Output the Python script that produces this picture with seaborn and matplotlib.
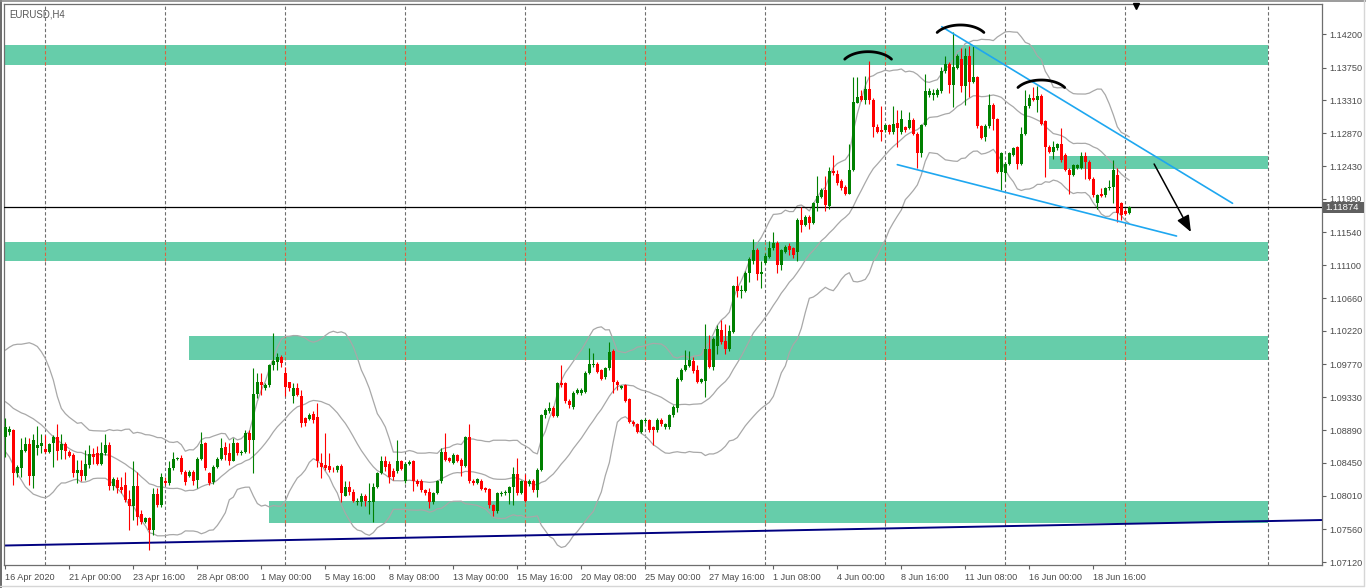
import numpy as np
import pandas as pd
import matplotlib
matplotlib.use("Agg")
import matplotlib.pyplot as plt
import seaborn as sns
from matplotlib.patches import Rectangle
from matplotlib.lines import Line2D

sns.set_style("white")
plt.rcParams['font.family'] = ['Liberation Sans', 'DejaVu Sans']

symbol = "EURUSD,H4"

opens = [1.0879,1.0887,1.0889,1.0831,1.0838,1.0861,1.0870,1.0827,1.0865,1.0867,
1.0863,1.0860,1.0871,1.0879,1.0862,1.0870,1.0859,1.0855,1.0832,1.0836,
1.0827,1.0842,1.0857,1.0858,1.0844,1.0858,1.0869,1.0814,1.0822,1.0813,
1.0815,1.0796,1.0787,1.0814,1.0776,1.0765,1.0771,1.0755,1.0803,1.0788,
1.0821,1.0818,1.0838,1.0850,1.0852,1.0833,1.0828,1.0833,1.0822,1.0850,
1.0872,1.0832,1.0819,1.0840,1.0850,1.0866,1.0858,1.0847,1.0871,1.0858,
1.0860,1.0885,1.0876,1.0937,1.0954,1.0945,1.0949,1.0976,1.0980,1.0987,
1.0966,1.0954,1.0935,1.0945,1.0935,1.0905,1.0904,1.0910,1.0906,1.0845,
1.0842,1.0841,1.0836,1.0835,1.0841,1.0801,1.0813,1.0806,1.0792,1.0792,
1.0800,1.0792,1.0793,1.0812,1.0832,1.0848,1.0844,1.0834,1.0834,1.0847,
1.0820,1.0844,1.0847,1.0821,1.0821,1.0808,1.0806,1.0792,1.0804,1.0820,
1.0860,1.0851,1.0845,1.0855,1.0849,1.0841,1.0879,1.0821,1.0818,1.0821,
1.0811,1.0810,1.0788,1.0780,1.0803,1.0804,1.0805,1.0812,1.0830,1.0805,
1.0820,1.0816,1.0821,1.0808,1.0836,1.0909,1.0914,1.0919,1.0908,1.0952,
1.0952,1.0928,1.0920,1.0939,1.0939,1.0940,1.0966,1.0976,1.0978,1.0969,
1.0960,1.0972,1.0995,1.0954,1.0946,1.0949,1.0930,1.0900,1.0897,1.0887,
1.0901,1.0902,1.0893,1.0889,1.0903,1.0893,1.0893,1.0909,1.0919,1.0956,
1.0970,1.0975,1.0982,1.0970,1.0954,1.0955,1.0997,1.0974,1.1002,1.1023,
1.1009,1.0997,1.1021,1.1082,1.1076,1.1076,1.1100,1.1116,1.1131,1.1098,
1.1113,1.1121,1.1133,1.1140,1.1110,1.1128,1.1136,1.1133,1.1128,1.1171,
1.1164,1.1175,1.1167,1.1193,1.1202,1.1211,1.1190,1.1236,1.1232,1.1223,
1.1215,1.1206,1.1238,1.1328,1.1337,1.1332,1.1346,1.1332,1.1295,1.1291,
1.1291,1.1298,1.1288,1.1301,1.1289,1.1295,1.1294,1.1305,1.1286,1.1261,
1.1298,1.1338,1.1338,1.1338,1.1343,1.1370,1.1380,1.1352,1.1375,1.1386,
1.1350,1.1391,1.1356,1.1362,1.1296,1.1282,1.1296,1.1325,1.1306,1.1235,
1.1233,1.1246,1.1258,1.1268,1.1246,1.1286,1.1323,1.1334,1.1332,1.1337,
1.1303,1.1269,1.1262,1.1267,1.1272,1.1258,1.1238,1.1231,1.1241,1.1241,
1.1256,1.1249,1.1226,1.1193,1.1206,1.1204,1.1213,1.1215,1.1231,1.1193,
1.1183,1.1180]

highs = [1.0905,1.0894,1.0891,1.0842,1.0878,1.0879,1.0878,1.0884,1.0894,1.0884,
1.0882,1.0872,1.0882,1.0897,1.0884,1.0873,1.0862,1.0858,1.0849,1.0849,
1.0862,1.0869,1.0865,1.0867,1.0873,1.0884,1.0873,1.0826,1.0826,1.0826,
1.0833,1.0809,1.0847,1.0833,1.0782,1.0773,1.0773,1.0811,1.0811,1.0831,
1.0826,1.0847,1.0860,1.0853,1.0855,1.0835,1.0835,1.0835,1.0853,1.0887,
1.0873,1.0833,1.0842,1.0853,1.0878,1.0873,1.0871,1.0878,1.0873,1.0862,
1.0889,1.0889,1.0972,1.0965,1.0965,1.0952,1.0978,1.1019,1.0992,1.0990,
1.0974,1.0954,1.0952,1.0952,1.0943,1.0907,1.0912,1.0914,1.0925,1.0858,
1.0885,1.0858,1.0840,1.0842,1.0844,1.0820,1.0820,1.0810,1.0798,1.0804,
1.0803,1.0818,1.0818,1.0833,1.0854,1.0854,1.0847,1.0838,1.0876,1.0849,
1.0846,1.0849,1.0849,1.0823,1.0823,1.0810,1.0811,1.0806,1.0822,1.0865,
1.0885,1.0853,1.0858,1.0857,1.0851,1.0881,1.0897,1.0823,1.0825,1.0823,
1.0812,1.0811,1.0790,1.0806,1.0807,1.0808,1.0814,1.0840,1.0851,1.0822,
1.0830,1.0823,1.0823,1.0838,1.0911,1.0918,1.0927,1.0921,1.0954,1.0976,
1.0954,1.0930,1.0941,1.0945,1.0946,1.0968,1.0999,1.0992,1.0980,1.0971,
1.0974,1.1007,1.0997,1.0956,1.0950,1.0951,1.0932,1.0902,1.0899,1.0904,
1.0905,1.0904,1.0895,1.0905,1.0905,1.0899,1.0911,1.0922,1.0960,1.0972,
1.0996,1.0995,1.0987,1.0976,1.0959,1.1031,1.1016,1.1014,1.1030,1.1036,
1.1031,1.1030,1.1084,1.1095,1.1083,1.1102,1.1121,1.1145,1.1133,1.1115,
1.1126,1.1142,1.1155,1.1142,1.1132,1.1137,1.1140,1.1135,1.1173,1.1188,
1.1177,1.1177,1.1195,1.1229,1.1214,1.1229,1.1242,1.1258,1.1238,1.1225,
1.1217,1.1273,1.1363,1.1363,1.1345,1.1364,1.1384,1.1334,1.1300,1.1323,
1.1300,1.1300,1.1323,1.1318,1.1318,1.1297,1.1316,1.1307,1.1288,1.1300,
1.1367,1.1347,1.1346,1.1347,1.1376,1.1391,1.1382,1.1423,1.1393,1.1401,
1.1401,1.1404,1.1404,1.1364,1.1298,1.1299,1.1340,1.1327,1.1308,1.1262,
1.1248,1.1262,1.1269,1.1270,1.1295,1.1345,1.1340,1.1349,1.1350,1.1339,
1.1305,1.1271,1.1276,1.1274,1.1294,1.1260,1.1240,1.1246,1.1246,1.1262,
1.1262,1.1251,1.1228,1.1206,1.1213,1.1215,1.1224,1.1251,1.1240,1.1195,
1.1186,1.1189]

lows = [1.0853,1.0882,1.0815,1.0826,1.0826,1.0860,1.0815,1.0811,1.0855,1.0858,
1.0858,1.0858,1.0840,1.0849,1.0850,1.0850,1.0853,1.0826,1.0818,1.0820,
1.0822,1.0838,1.0844,1.0842,1.0842,1.0855,1.0809,1.0809,1.0804,1.0804,
1.0793,1.0755,1.0768,1.0761,1.0763,1.0764,1.0728,1.0748,1.0786,1.0786,
1.0815,1.0815,1.0835,1.0849,1.0830,1.0815,1.0826,1.0815,1.0811,1.0849,
1.0835,1.0815,1.0817,1.0838,1.0849,1.0849,1.0842,1.0847,1.0855,1.0855,
1.0858,1.0858,1.0831,1.0932,1.0936,1.0943,1.0947,1.0970,1.0970,1.0974,
1.0934,1.0941,1.0925,1.0934,1.0893,1.0894,1.0902,1.0898,1.0840,1.0824,
1.0835,1.0833,1.0833,1.0833,1.0793,1.0800,1.0802,1.0792,1.0789,1.0787,
1.0787,1.0776,1.0765,1.0811,1.0830,1.0834,1.0818,1.0822,1.0832,1.0835,
1.0818,1.0842,1.0807,1.0814,1.0806,1.0802,1.0784,1.0790,1.0803,1.0818,
1.0847,1.0846,1.0843,1.0846,1.0828,1.0839,1.0818,1.0815,1.0816,1.0808,
1.0806,1.0784,1.0774,1.0778,1.0801,1.0802,1.0790,1.0789,1.0802,1.0803,
1.0792,1.0814,1.0806,1.0799,1.0834,1.0905,1.0912,1.0906,1.0906,1.0947,
1.0925,1.0919,1.0917,1.0937,1.0936,1.0938,1.0964,1.0974,1.0965,1.0956,
1.0958,1.0970,1.0939,1.0942,1.0944,1.0926,1.0898,1.0895,1.0885,1.0885,
1.0899,1.0887,1.0869,1.0887,1.0895,1.0891,1.0891,1.0907,1.0913,1.0955,
1.0968,1.0974,1.0966,1.0952,1.0952,1.0933,1.0972,1.0969,1.0991,1.1005,
1.0991,1.0995,1.1019,1.1067,1.1066,1.1074,1.1088,1.1112,1.1090,1.1080,
1.1111,1.1119,1.1131,1.1100,1.1104,1.1126,1.1124,1.1119,1.1115,1.1154,
1.1162,1.1159,1.1165,1.1183,1.1200,1.1183,1.1186,1.1231,1.1218,1.1211,
1.1204,1.1205,1.1236,1.1327,1.1330,1.1326,1.1326,1.1282,1.1287,1.1277,
1.1289,1.1286,1.1286,1.1268,1.1286,1.1289,1.1292,1.1285,1.1241,1.1255,
1.1296,1.1336,1.1331,1.1336,1.1341,1.1368,1.1341,1.1322,1.1373,1.1342,
1.1325,1.1336,1.1354,1.1294,1.1279,1.1276,1.1294,1.1291,1.1233,1.1211,
1.1223,1.1244,1.1256,1.1239,1.1244,1.1284,1.1321,1.1330,1.1315,1.1298,
1.1228,1.1260,1.1253,1.1265,1.1249,1.1236,1.1206,1.1229,1.1239,1.1239,
1.1225,1.1224,1.1202,1.1186,1.1201,1.1202,1.1211,1.1194,1.1168,1.1170,
1.1177,1.1179]

closes = [1.0893,1.0890,1.0831,1.0840,1.0862,1.0870,1.0827,1.0876,1.0869,1.0872,
1.0860,1.0870,1.0879,1.0861,1.0870,1.0861,1.0854,1.0831,1.0836,1.0827,
1.0844,1.0857,1.0853,1.0844,1.0858,1.0869,1.0814,1.0823,1.0811,1.0809,
1.0795,1.0787,1.0814,1.0773,1.0765,1.0771,1.0755,1.0803,1.0788,1.0826,
1.0818,1.0838,1.0850,1.0851,1.0833,1.0819,1.0833,1.0820,1.0850,1.0870,
1.0838,1.0818,1.0840,1.0850,1.0865,1.0856,1.0847,1.0871,1.0858,1.0860,
1.0885,1.0876,1.0937,1.0953,1.0949,1.0949,1.0976,1.0981,1.0987,1.0979,
1.0947,1.0945,1.0945,1.0936,1.0899,1.0899,1.0909,1.0903,1.0847,1.0840,
1.0838,1.0835,1.0835,1.0841,1.0804,1.0813,1.0806,1.0794,1.0794,1.0800,
1.0794,1.0794,1.0813,1.0832,1.0848,1.0840,1.0826,1.0826,1.0847,1.0837,
1.0844,1.0846,1.0820,1.0816,1.0808,1.0804,1.0792,1.0804,1.0820,1.0860,
1.0849,1.0848,1.0855,1.0848,1.0841,1.0880,1.0820,1.0818,1.0823,1.0810,
1.0808,1.0788,1.0780,1.0804,1.0805,1.0806,1.0812,1.0830,1.0805,1.0820,
1.0794,1.0820,1.0808,1.0836,1.0909,1.0916,1.0919,1.0908,1.0952,1.0949,
1.0928,1.0923,1.0939,1.0943,1.0943,1.0966,1.0977,1.0978,1.0967,1.0958,
1.0972,1.0994,1.0954,1.0949,1.0948,1.0928,1.0900,1.0897,1.0887,1.0902,
1.0903,1.0889,1.0889,1.0903,1.0897,1.0897,1.0909,1.0920,1.0957,1.0970,
1.0976,1.0983,1.0968,1.0954,1.0957,1.0998,1.0974,1.1011,1.1024,1.1007,
1.0997,1.1022,1.1082,1.1076,1.1077,1.1100,1.1118,1.1131,1.1098,1.1101,
1.1122,1.1133,1.1140,1.1110,1.1130,1.1135,1.1130,1.1124,1.1171,1.1164,
1.1175,1.1167,1.1193,1.1203,1.1211,1.1191,1.1236,1.1233,1.1220,1.1213,
1.1206,1.1238,1.1329,1.1336,1.1332,1.1346,1.1332,1.1295,1.1289,1.1289,
1.1298,1.1288,1.1300,1.1294,1.1306,1.1291,1.1305,1.1286,1.1261,1.1298,
1.1343,1.1344,1.1341,1.1345,1.1370,1.1380,1.1352,1.1376,1.1390,1.1350,
1.1391,1.1356,1.1363,1.1296,1.1281,1.1297,1.1325,1.1306,1.1235,1.1260,
1.1246,1.1260,1.1267,1.1246,1.1286,1.1323,1.1334,1.1332,1.1337,1.1300,
1.1269,1.1262,1.1268,1.1272,1.1251,1.1238,1.1231,1.1244,1.1244,1.1256,
1.1249,1.1226,1.1204,1.1204,1.1203,1.1213,1.1215,1.1238,1.1180,1.1177,
1.1179,1.11874]

# Bollinger band values visible for the first bars (before a full 20-bar window exists)
bb_upper_head = [1.0996,1.1000,1.1003,1.1004,1.1004,1.1005,1.1006,1.1004,1.1001,1.0994,
                 1.0985,1.0972,1.0956,1.0934,1.0918,1.0911,1.0906,1.0902,1.0898]
bb_mid_head = [1.0927,1.0923,1.0918,1.0915,1.0912,1.0910,1.0907,1.0904,1.0900,1.0896,
               1.0891,1.0885,1.0880,1.0876,1.0871,1.0868,1.0864,1.0861,1.0859]
bb_lower_head = [1.0860,1.0853,1.0842,1.0830,1.0822,1.0813,1.0808,1.0803,1.0801,1.0799,
                 1.0798,1.0801,1.0806,1.0813,1.0818,1.0818,1.0820,1.0822,1.0823]
bb_period = 20
bb_dev = 2

current_price = 1.11874

zone_low = [1.13788, 1.12394, 1.11160, 1.09829, 1.07638]
zone_high = [1.14052, 1.12568, 1.11407, 1.10151, 1.07938]
zone_start = [-1.0, 260.9, -1.0, 45.9, 65.9]
zone_end = 315.7

ytick_values = [1.14200, 1.13750, 1.13310, 1.12870, 1.12430, 1.11990, 1.11540,
                1.11100, 1.10660, 1.10220, 1.09770, 1.09330, 1.08890, 1.08450,
                1.08010, 1.07560, 1.07120]
xtick_labels = ["16 Apr 2020", "21 Apr 00:00", "23 Apr 16:00", "28 Apr 08:00",
                "1 May 00:00", "5 May 16:00", "8 May 08:00", "13 May 00:00",
                "15 May 16:00", "20 May 08:00", "25 May 00:00", "27 May 16:00",
                "1 Jun 08:00", "4 Jun 00:00", "8 Jun 16:00", "11 Jun 08:00",
                "16 Jun 00:00", "18 Jun 16:00"]

trend_upper = [(234.1, 1.14298), (306.8, 1.11930)]
trend_lower = [(223.0, 1.12448), (292.8, 1.11491)]
support_line = [(-0.33, 1.07341), (329.17, 1.07683)]
forecast_arrow = [(287.2, 1.12457), (296.4, 1.11545)]
arc_centers = [(215.7, 1.13762), (238.8, 1.14120), (259.0, 1.13382)]
shift_marker = (282.7, 1.14575)

# ---------------------------------------------------------------
W, H = 1366, 588
fig = plt.figure(figsize=(W / 100, H / 100), dpi=100)
ax = fig.add_axes([4 / W, 23 / H, 1318 / W, 561 / H])
ax.set_facecolor("white")

XMIN, XMAX = -0.3325, 329.17
YMIN, YMAX = 1.070799, 1.146024
ax.set_xlim(XMIN, XMAX)
ax.set_ylim(YMIN, YMAX)

n = len(closes)
bars = np.arange(n)

# grid (dashed verticals)
grid_bars = [9.9 + 30 * k for k in range(10)] + [315.7]
for gb in grid_bars:
    ax.axvline(gb, color="#6e6e6e", lw=0.8, ls=(0, (3, 2)), zorder=0.5)

# zones
zone_color = "#66CDAA"
for lo_, hi_, st in zip(zone_low, zone_high, zone_start):
    ax.add_patch(Rectangle((st, lo_), zone_end - st, hi_ - lo_, facecolor=zone_color,
                           edgecolor="none", zorder=1))
    for gb in grid_bars[:-1]:
        if st < gb < zone_end:
            ax.plot([gb, gb], [lo_, hi_], color="#d9653f", lw=0.8, ls=(0, (3, 2)), zorder=1.1)

# Bollinger bands
s = pd.Series(closes)
mid = s.rolling(bb_period).mean()
sd = s.rolling(bb_period).std(ddof=0)
up = mid + bb_dev * sd
lo = mid - bb_dev * sd
k = len(bb_mid_head)
mid.iloc[:k] = bb_mid_head
up.iloc[:k] = bb_upper_head
lo.iloc[:k] = bb_lower_head
bb = pd.DataFrame({"bar": bars, "upper": up.values, "mid": mid.values, "lower": lo.values})
for col in ["upper", "mid", "lower"]:
    sns.lineplot(data=bb, x="bar", y=col, ax=ax, color="#a8a8a8", linewidth=0.9,
                 zorder=2, legend=False)

# support trend line (navy)
ax.plot([p[0] for p in support_line], [p[1] for p in support_line], color="#000080",
        lw=1.4, zorder=2.5)

# candles
o = np.array(opens); c = np.array(closes); h = np.array(highs); l = np.array(lows)
up_mask = c >= o
cols = np.where(up_mask, "#008000", "#FF0000")
top = np.maximum(np.maximum(o, c), h)
bot = np.minimum(np.minimum(o, c), l)
ax.vlines(bars, bot, top, colors=cols, lw=0.8, zorder=4)
body_h = np.maximum(np.abs(c - o), 0.00004)
ax.bar(bars, body_h, bottom=np.minimum(o, c), width=0.75, color=cols, linewidth=0, zorder=4.1)

# current price line
ax.axhline(current_price, color="black", lw=0.9, zorder=3)

# trend lines (blue)
for tl in (trend_upper, trend_lower):
    ax.plot([p[0] for p in tl], [p[1] for p in tl], color="#1EA7F0", lw=1.2, zorder=5)

# arcs (head and shoulders)
arc_w, arc_h = 13.5, 0.00402
t = np.radians(np.linspace(30, 150, 60))
for cx, cy in arc_centers:
    ax.plot(cx + arc_w / 2 * np.cos(t), cy + arc_h / 2 * np.sin(t), color="black",
            lw=2.0, zorder=5, solid_capstyle="round")

# forecast arrow
ax.annotate("", xy=forecast_arrow[1], xytext=forecast_arrow[0],
            arrowprops=dict(arrowstyle="-|>,head_length=1.0,head_width=0.4", color="black",
                            lw=1.1, shrinkA=0, shrinkB=0), zorder=6)

# chart shift marker
ax.plot([shift_marker[0]], [shift_marker[1]], marker="v", ms=5, color="black",
        clip_on=False, zorder=6)

# symbol title
ax.text(0.0038, 0.991, symbol, transform=ax.transAxes, ha="left", va="top",
        fontsize=6.9, color="#555555", zorder=7)

# axes styling
for sp in ax.spines.values():
    sp.set_color("#6e6e6e")
    sp.set_linewidth(0.9)
    sp.set_visible(True)

ax.yaxis.tick_right()
ax.set_yticks(ytick_values)
ax.set_yticklabels([f"{v:.5f}" for v in ytick_values])
ax.tick_params(axis="y", which="both", direction="out", length=3, width=0.8,
               color="#606060", labelsize=6.6, labelcolor="#4a4a4a", pad=2,
               left=False, right=True)

ax.set_xticks([16 * i for i in range(len(xtick_labels))])
ax.set_xticklabels(xtick_labels, ha="left")
ax.tick_params(axis="x", which="both", direction="out", length=3, width=0.8,
               color="#606060", labelsize=6.6, labelcolor="#4a4a4a", pad=3,
               bottom=True)
ax.set_xlabel("")
ax.set_ylabel("")
ax.grid(False)

# current price label (box on the price scale), placed at the price's height
y_frac = ax.transAxes.inverted().transform(ax.transData.transform((0, current_price)))[1]
y_fig = (23 + y_frac * 561) / H
fig.add_artist(Rectangle((1322.5 / W, y_fig - 5.2 / H), 41 / W, 10.4 / H,
                         transform=fig.transFigure, facecolor="#5f5f5f",
                         edgecolor="none", zorder=8))
fig.text(1325.5 / W, y_fig, f"{current_price:.5f}", ha="left", va="center",
         fontsize=6.8, color="white", zorder=9)

# window border
fig.add_artist(Line2D([0.6 / W, 0.6 / W], [0, 1], transform=fig.transFigure,
                      color="#6a6a6a", lw=1.4))
fig.add_artist(Line2D([0, 1], [1 - 0.6 / H, 1 - 0.6 / H], transform=fig.transFigure,
                      color="#8a8a8a", lw=1.2))
fig.add_artist(Line2D([1363.5 / W, 1363.5 / W], [2.5 / H, 1], transform=fig.transFigure,
                      color="#d6d6d6", lw=1.0))
fig.add_artist(Line2D([0, 1363.5 / W], [2.5 / H, 2.5 / H], transform=fig.transFigure,
                      color="#d6d6d6", lw=1.0))

fig.savefig("out.png", dpi=100)
